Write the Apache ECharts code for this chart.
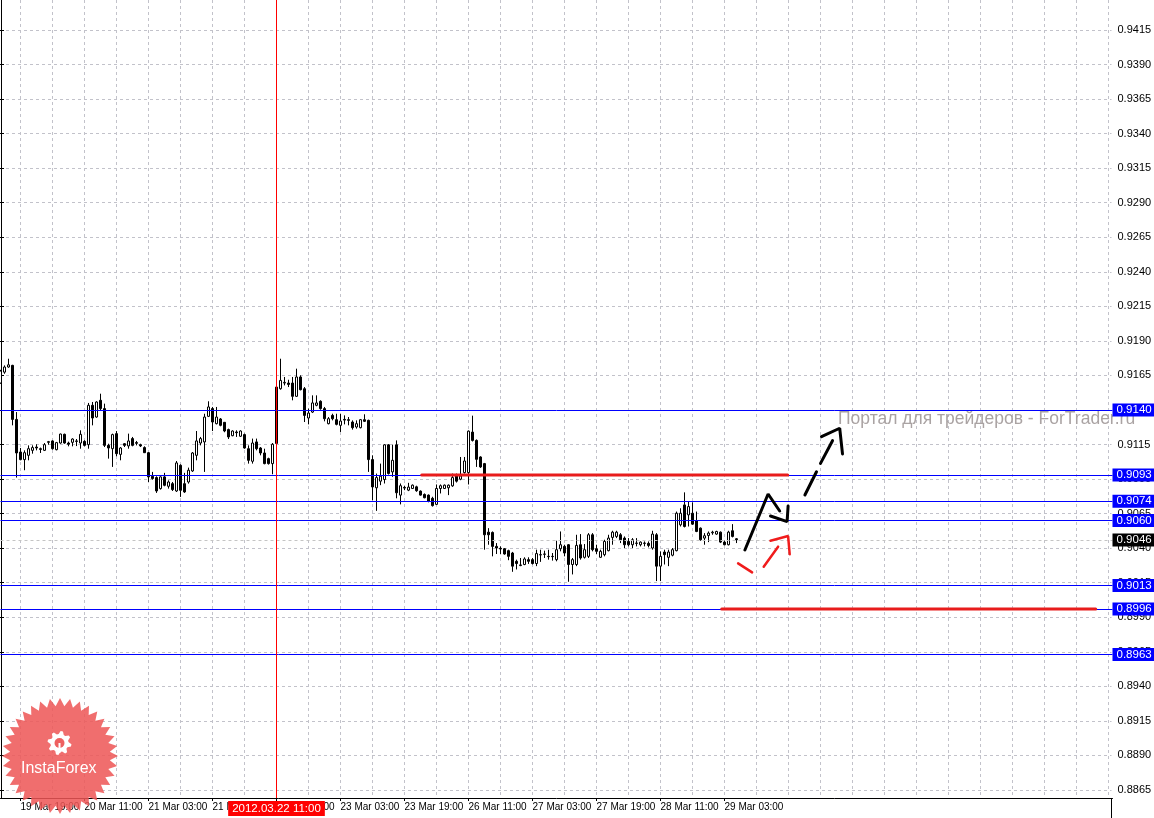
<!DOCTYPE html>
<html>
<head>
<meta charset="utf-8">
<script src="https://cdn.jsdelivr.net/npm/echarts@6/dist/echarts.min.js"></script>
<style>
html,body{margin:0;padding:0;background:#ffffff;}
#chart{width:1154px;height:818px;}
</style>
</head>
<body>
<div id="chart"></div>
<script>
// ---------- DATA ----------
// hourly candles, [open, close, low, high], slot 0 = 19 Mar 14:00
const ohlc = [
[0.91595,0.91682,0.91590,0.91691],[0.91674,0.91711,0.91662,0.91723],[0.91711,0.91727,0.91706,0.91771],[0.91723,0.91332,0.91289,0.91727],
[0.91332,0.91089,0.90911,0.91385],[0.91096,0.91041,0.91036,0.91125],[0.91041,0.91091,0.90964,0.91108],[0.91072,0.91120,0.91036,0.91144],
[0.91108,0.91128,0.91084,0.91144],[0.91132,0.91125,0.91108,0.91152],[0.91120,0.91115,0.91089,0.91128],[0.91108,0.91149,0.91103,0.91161],
[0.91166,0.91171,0.91149,0.91176],[0.91176,0.91120,0.91113,0.91181],[0.91113,0.91164,0.91108,0.91169],[0.91161,0.91226,0.91156,0.91229],
[0.91224,0.91161,0.91156,0.91229],[0.91161,0.91152,0.91137,0.91171],[0.91166,0.91190,0.91137,0.91195],[0.91176,0.91173,0.91139,0.91190],
[0.91161,0.91224,0.91120,0.91253],[0.91173,0.91144,0.91137,0.91181],[0.91149,0.91434,0.91120,0.91451],[0.91434,0.91342,0.91289,0.91458],
[0.91349,0.91458,0.91344,0.91463],[0.91470,0.91410,0.91397,0.91518],[0.91410,0.91144,0.91132,0.91446],[0.91144,0.91125,0.91048,0.91156],
[0.91120,0.91222,0.90988,0.91229],[0.91229,0.91084,0.91065,0.91248],[0.91079,0.91125,0.91036,0.91132],[0.91156,0.91144,0.91132,0.91161],
[0.91140,0.91176,0.91120,0.91229],[0.91193,0.91144,0.91137,0.91205],[0.91164,0.91159,0.91144,0.91176],[0.91149,0.91140,0.91132,0.91156],
[0.91128,0.91091,0.91089,0.91137],[0.91091,0.90916,0.90879,0.91096],[0.90920,0.90904,0.90896,0.90952],[0.90911,0.90814,0.90800,0.90920],
[0.90831,0.90916,0.90824,0.90920],[0.90916,0.90855,0.90848,0.90945],[0.90848,0.90879,0.90831,0.90891],[0.90867,0.90824,0.90814,0.90879],
[0.90814,0.91017,0.90807,0.91031],[0.91000,0.90819,0.90771,0.91007],[0.90867,0.90807,0.90800,0.90945],[0.90879,0.90964,0.90867,0.90983],
[0.90959,0.91089,0.90952,0.91096],[0.91072,0.91176,0.91036,0.91248],[0.91161,0.91193,0.91144,0.91205],[0.91169,0.91349,0.90952,0.91373],
[0.91354,0.91422,0.91349,0.91463],[0.91410,0.91313,0.91248,0.91422],[0.91301,0.91349,0.91296,0.91422],[0.91335,0.91289,0.91282,0.91342],
[0.91311,0.91248,0.91239,0.91313],[0.91258,0.91205,0.91190,0.91265],[0.91214,0.91248,0.91210,0.91253],[0.91241,0.91236,0.91205,0.91253],
[0.91210,0.91248,0.91205,0.91253],[0.91222,0.91125,0.91120,0.91229],[0.91120,0.91036,0.91012,0.91144],[0.91029,0.91161,0.91012,0.91193],
[0.91169,0.91120,0.91108,0.91193],[0.91125,0.91089,0.91072,0.91132],[0.91089,0.91012,0.91007,0.91120],[0.91048,0.91012,0.91005,0.91055],
[0.91012,0.91152,0.90935,0.91161],[0.91157,0.91566,0.91152,0.91571],[0.91554,0.91614,0.91547,0.91771],[0.91595,0.91600,0.91578,0.91639],
[0.91595,0.91585,0.91566,0.91619],[0.91595,0.91499,0.91470,0.91639],[0.91499,0.91639,0.91494,0.91699],[0.91639,0.91547,0.91542,0.91651],
[0.91554,0.91361,0.91313,0.91566],[0.91342,0.91378,0.91296,0.91410],[0.91385,0.91451,0.91378,0.91506],[0.91434,0.91451,0.91427,0.91506],
[0.91463,0.91410,0.91402,0.91470],[0.91410,0.91337,0.91318,0.91422],[0.91301,0.91337,0.91296,0.91349],[0.91361,0.91337,0.91325,0.91373],
[0.91330,0.91296,0.91289,0.91373],[0.91289,0.91320,0.91241,0.91373],[0.91332,0.91327,0.91296,0.91361],[0.91330,0.91325,0.91289,0.91349],
[0.91313,0.91272,0.91258,0.91325],[0.91277,0.91301,0.91265,0.91325],[0.91272,0.91330,0.91267,0.91335],[0.91330,0.91318,0.91313,0.91369],
[0.91325,0.91041,0.90952,0.91330],[0.91041,0.90843,0.90747,0.91072],[0.90837,0.90911,0.90670,0.90940],[0.90885,0.90921,0.90856,0.91012],
[0.90897,0.91148,0.90868,0.91153],[0.91148,0.90940,0.90933,0.91153],[0.90952,0.91036,0.90916,0.91148],[0.91148,0.90801,0.90761,0.91180],
[0.90784,0.90852,0.90717,0.90868],[0.90840,0.90835,0.90820,0.90852],[0.90820,0.90842,0.90813,0.90873],[0.90832,0.90856,0.90828,0.90861],
[0.90844,0.90816,0.90808,0.90852],[0.90813,0.90784,0.90780,0.90818],[0.90789,0.90765,0.90761,0.90796],[0.90784,0.90741,0.90732,0.90789],
[0.90761,0.90708,0.90701,0.90772],[0.90717,0.90832,0.90713,0.90861],[0.90832,0.90852,0.90796,0.90861],[0.90832,0.90856,0.90828,0.90861],
[0.90837,0.90856,0.90784,0.90861],[0.90851,0.90911,0.90844,0.90940],[0.90923,0.90885,0.90875,0.90940],[0.90899,0.90923,0.90892,0.91060],
[0.90947,0.91031,0.90940,0.91060],[0.90947,0.91247,0.90861,0.91252],[0.91240,0.91180,0.91172,0.91359],[0.91180,0.91043,0.90988,0.91187],
[0.91060,0.90988,0.90981,0.91065],[0.91012,0.90497,0.90389,0.91017],[0.90516,0.90497,0.90425,0.90545],[0.90514,0.90413,0.90341,0.90521],
[0.90413,0.90401,0.90358,0.90437],[0.90399,0.90394,0.90358,0.90413],[0.90396,0.90358,0.90353,0.90401],[0.90382,0.90341,0.90313,0.90389],
[0.90365,0.90270,0.90229,0.90373],[0.90305,0.90289,0.90246,0.90317],[0.90274,0.90279,0.90270,0.90329],[0.90282,0.90322,0.90277,0.90334],
[0.90317,0.90305,0.90286,0.90334],[0.90317,0.90289,0.90282,0.90329],[0.90289,0.90361,0.90270,0.90389],[0.90353,0.90351,0.90301,0.90389],
[0.90358,0.90356,0.90329,0.90382],[0.90341,0.90339,0.90317,0.90389],[0.90341,0.90339,0.90310,0.90365],[0.90317,0.90389,0.90305,0.90454],
[0.90396,0.90425,0.90377,0.90521],[0.90413,0.90365,0.90341,0.90425],[0.90425,0.90282,0.90157,0.90430],[0.90282,0.90317,0.90210,0.90329],
[0.90282,0.90420,0.90270,0.90497],[0.90425,0.90329,0.90317,0.90502],[0.90334,0.90389,0.90325,0.90430],[0.90341,0.90497,0.90329,0.90509],
[0.90497,0.90389,0.90377,0.90509],[0.90396,0.90377,0.90358,0.90425],[0.90334,0.90377,0.90329,0.90389],[0.90353,0.90449,0.90341,0.90461],
[0.90382,0.90473,0.90377,0.90497],[0.90478,0.90516,0.90425,0.90526],[0.90485,0.90516,0.90473,0.90526],[0.90497,0.90461,0.90437,0.90509],
[0.90473,0.90425,0.90401,0.90485],[0.90449,0.90425,0.90413,0.90473],[0.90425,0.90461,0.90401,0.90473],[0.90437,0.90435,0.90413,0.90473],
[0.90425,0.90444,0.90413,0.90449],[0.90437,0.90435,0.90413,0.90449],[0.90435,0.90420,0.90406,0.90449],[0.90401,0.90502,0.90389,0.90526],
[0.90497,0.90270,0.90162,0.90509],[0.90270,0.90341,0.90162,0.90377],[0.90372,0.90353,0.90282,0.90389],[0.90334,0.90372,0.90270,0.90389],
[0.90349,0.90389,0.90341,0.90401],[0.90382,0.90653,0.90377,0.90665],[0.90569,0.90653,0.90557,0.90689],[0.90713,0.90557,0.90550,0.90804],
[0.90641,0.90701,0.90557,0.90737],[0.90653,0.90574,0.90569,0.90732],[0.90598,0.90521,0.90516,0.90665],[0.90545,0.90461,0.90454,0.90550],
[0.90473,0.90490,0.90425,0.90509],[0.90492,0.90509,0.90444,0.90521],[0.90511,0.90516,0.90497,0.90526],[0.90502,0.90521,0.90497,0.90526],
[0.90516,0.90444,0.90437,0.90521],[0.90444,0.90425,0.90420,0.90454],[0.90425,0.90516,0.90420,0.90526],[0.90526,0.90485,0.90478,0.90574],
[0.90468,0.90461,0.90437,0.90473]
];

const slotCount = 279;                       // hourly slots across the plot
const tickSlots  = [5, 21, 37, 53, 69, 85, 101, 117, 133, 149, 165, 181];
const tickLabels = ['19 Mar 19:00','20 Mar 11:00','21 Mar 03:00','21 Mar 19:00','22 Mar 11:00','23 Mar 03:00',
                    '23 Mar 19:00','26 Mar 11:00','27 Mar 03:00','27 Mar 19:00','28 Mar 11:00','29 Mar 03:00'];

const levels    = [0.9140, 0.9093, 0.9074, 0.9060, 0.9013, 0.8996, 0.8963];
const bidPrice  = 0.9046;
const cursorSlot  = 69;
const cursorLabel = '2012.03.22 11:00';

// annotations: [slot, price] points
const redLevelSegments = [
  [[105.3, 0.9093], [196.8, 0.9093]],
  [[180.3, 0.8996], [273.8, 0.8996]]
];
const blackArrowStrokes = [
  [[186.1, 0.90387], [191.9, 0.90792], [194.8, 0.90669]],
  [[192.5, 0.90633], [196.65, 0.90592], [196.9, 0.90705]],
  [[201.1, 0.90785], [204.0, 0.90953]],
  [[205.0, 0.91014], [208.0, 0.91178]],
  [[205.25, 0.91207], [209.8, 0.91268], [210.5, 0.91082]]
];
const redArrowStrokes = [
  [[184.4, 0.90290], [187.9, 0.90225]],
  [[190.8, 0.90266], [194.4, 0.90411]],
  [[192.5, 0.90454], [196.9, 0.90488], [197.3, 0.90356]]
];

const watermark = 'Портал для трейдеров - ForTrader.ru';
const brand = 'InstaForex';

// ---------- CHART ----------
const FONT = '"Liberation Sans", Arial, sans-serif';
const GRID_COLOR = '#c2c2ca';
const categories = Array.from({length: slotCount}, (_, i) => String(i));
const tickMap = {};
tickSlots.forEach((s, k) => { tickMap[s] = tickLabels[k]; });

const boxLabel = (bg) => ({
  show: true, position: 'end', distance: 0,
  formatter: (p) => Number(p.value).toFixed(4),
  color: '#ffffff', backgroundColor: bg,
  padding: [1, 3, 0, 4], fontSize: 11.5, lineHeight: 12, fontFamily: FONT
});

const markData = levels.map(v => ({
  yAxis: v,
  lineStyle: {color: '#0000ff', width: 1, type: 'solid'},
  label: boxLabel('#0000ff')
}));
markData.unshift({
  yAxis: bidPrice,
  lineStyle: {color: '#c4c4c4', width: 1, type: [3, 3]},
  label: boxLabel('#000000')
});
markData.push({
  xAxis: String(cursorSlot),
  lineStyle: {color: '#ff0000', width: 1, type: 'solid'},
  label: {
    show: true, position: 'start', distance: 3, formatter: cursorLabel,
    color: '#ffffff', backgroundColor: '#ff0000', padding: [2, 4, 1, 4],
    fontSize: 11.5, lineHeight: 12, fontFamily: FONT
  }
});

const strokeSeries = (pts, color, width) => ({
  type: 'line', xAxisIndex: 1, yAxisIndex: 0, data: pts,
  symbol: 'none', silent: true, animation: false, z: 5,
  lineStyle: {color: color, width: width, cap: 'round'},
  emphasis: {disabled: true}
});

// logo shapes (decoration)
const starPts = [];
for (let k = 0; k < 72; k++) {
  const a = k * Math.PI / 36 - Math.PI / 2;
  const r = (k % 2) ? 50 : 58;
  starPts.push([60 + r * Math.cos(a), 756 + r * Math.sin(a)]);
}
const gearPts = [];
for (let k = 0; k < 32; k++) {
  const a = (k + 0.5) * Math.PI / 16;
  const r = (Math.floor(k / 2) % 2 === 0) ? 12 : 9;
  gearPts.push([59.5 + r * Math.cos(a), 743 + r * Math.sin(a)]);
}

const series = [{
  type: 'candlestick', xAxisIndex: 0, yAxisIndex: 0, data: ohlc,
  barWidth: 3, animation: false, silent: true, z: 3,
  itemStyle: {color: '#ffffff', color0: '#000000', borderColor: '#000000', borderColor0: '#000000', borderWidth: 1},
  emphasis: {disabled: true},
  markLine: {symbol: ['none', 'none'], silent: true, animation: false, precision: 4, data: markData}
}];
redLevelSegments.forEach(s => series.push(strokeSeries(s, '#e81c1c', 3)));
blackArrowStrokes.forEach(s => series.push(strokeSeries(s, '#000000', 3)));
redArrowStrokes.forEach(s => series.push(strokeSeries(s, '#f01c1c', 2.5)));

const option = {
  backgroundColor: '#ffffff',
  animation: false,
  grid: [
    {left: 0.5, top: 0, width: 1112, height: 798, outerBoundsMode: 'none', containLabel: false},
    {left: 0, top: -4.545, width: 1111.5, height: 794.545, outerBoundsMode: 'none', containLabel: false}
  ],
  xAxis: [
    {
      type: 'category', gridIndex: 0, data: categories, boundaryGap: false,
      axisLine: {show: true, lineStyle: {color: '#000000', width: 1}},
      axisTick: {show: true, interval: (i) => tickMap[i] !== undefined, length: 3, lineStyle: {color: '#000000'}},
      axisLabel: {
        show: true, interval: (i) => tickMap[i] !== undefined, hideOverlap: false,
        formatter: (v) => tickMap[v] || '', align: 'left', margin: 4,
        color: '#000000', fontSize: 10, fontFamily: FONT
      },
      splitLine: {show: true, interval: (i) => i % 8 === 5, lineStyle: {color: GRID_COLOR, width: 1, type: [3, 3]}}
    },
    {type: 'value', gridIndex: 0, min: 0, max: slotCount - 1, show: false},
    {type: 'value', gridIndex: 1, min: 0, max: 1, show: false}
  ],
  yAxis: [
    {
      type: 'value', gridIndex: 0, min: 0.885921, max: 0.943671, position: 'right', offset: -1,
      axisLine: {show: true, lineStyle: {color: '#000000', width: 1}},
      axisTick: {show: false}, axisLabel: {show: false}, splitLine: {show: false}
    },
    {
      type: 'value', gridIndex: 1, min: 0.8865, max: 0.9440, interval: 0.0025, position: 'right',
      axisLine: {show: false},
      axisTick: {show: true, length: 4, lineStyle: {color: '#000000'}},
      axisLabel: {show: true, formatter: (v) => v.toFixed(4), margin: 6, color: '#000000', fontSize: 11, fontFamily: FONT, hideOverlap: false},
      splitLine: {show: true, lineStyle: {color: GRID_COLOR, width: 1, type: [3, 3]}}
    }
  ],
  graphic: [
    {type: 'text', left: 838, top: 410, z: 1, silent: true,
     style: {text: watermark, fill: '#aaa3a3', font: '17.5px "Liberation Sans", Arial, sans-serif'}},
    {type: 'line', z: 1, silent: true, shape: {x1: 1111.5, y1: 798, x2: 1111.5, y2: 818}, style: {stroke: '#000000', lineWidth: 1}},
    {type: 'polygon', z: 100, silent: true, shape: {points: starPts}, style: {fill: 'rgba(238,86,86,0.86)'}},
    {type: 'polygon', z: 101, silent: true, shape: {points: gearPts}, style: {fill: '#ffffff'}},
    {type: 'circle', z: 102, silent: true, shape: {cx: 59.5, cy: 743, r: 5}, style: {fill: '#ee6060'}},
    {type: 'rect', z: 103, silent: true, shape: {x: 58.5, y: 743, width: 2, height: 10}, style: {fill: '#ffffff'}},
    {type: 'text', z: 103, silent: true, left: 21, top: 761,
     style: {text: brand, fill: '#ffffff', font: '16px "Liberation Sans", Arial, sans-serif'}}
  ],
  series: series
};

const chart = echarts.init(document.getElementById('chart'), null, {renderer: 'canvas'});
chart.setOption(option);
</script>
</body>
</html>
